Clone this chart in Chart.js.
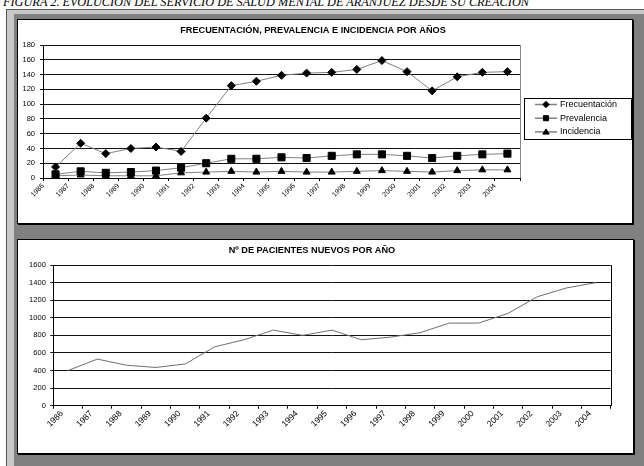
<!DOCTYPE html>
<html><head><meta charset="utf-8">
<script src="https://cdn.jsdelivr.net/npm/chart.js@4/dist/chart.umd.min.js"></script>
<style>
html,body{margin:0;padding:0;background:#fff;width:644px;height:466px;overflow:hidden;position:relative}
#caption{position:absolute;left:3px;top:-4px;font:italic 12.3px "Liberation Serif","Times New Roman",serif;line-height:12.3px;white-space:nowrap;color:#000}
#frame{position:absolute;left:6px;top:9px;width:660px;height:480px;background:#808080;border-top:1px solid #555;border-left:1px solid #555;box-shadow:inset 7px 4px 0 0 #c8c8c8}
.panel{position:absolute;background:#fff;border:1px solid #000;box-shadow:1px 1px 0 0 #000}
.panel canvas{display:block}
</style></head>
<body>
<div id="caption">FIGURA 2. EVOLUCIÓN DEL SERVICIO DE SALUD MENTAL DE ARANJUEZ DESDE SU CREACIÓN</div>
<div id="frame"></div>
<div class="panel" style="left:17px;top:19px;width:614px;height:203px"><canvas id="c1" width="614" height="203"></canvas></div>
<div class="panel" style="left:17px;top:239px;width:615px;height:213px"><canvas id="c2" width="615" height="213"></canvas></div>
<script>
// ---- data ----
const years = ['1986','1987','1988','1989','1990','1991','1992','1993','1994','1995','1996','1997','1998','1999','2000','2001','2002','2003','2004'];
const frecuentacion = [15,47,33,40,42,36,81,125,131,139,142,143,147,159,144,118,137,143,144];
const prevalencia   = [5,9,7,8,10,14,20,26,26,28,27,30,32,32,30,27,30,32,33];
const incidencia    = [3,4,3,3,3,7,8,9,8,9,8,8,9,10,9,8,10,11,11];
const pacientesNuevos = [400,530,460,435,475,670,750,860,800,860,750,780,830,940,940,1050,1240,1340,1400];
const topTitle = 'FRECUENTACIÓN, PREVALENCIA E INCIDENCIA POR AÑOS';
const bottomTitle = 'Nº DE PACIENTES NUEVOS POR AÑO';
const seriesNames = ['Frecuentación','Prevalencia','Incidencia'];
const topScale = {min:0, max:180, step:20};
const bottomScale = {min:0, max:1600, step:200};

const FAM = '"Liberation Sans", Arial, sans-serif';

function markerPath(ctx, style, x, y, r){
  ctx.beginPath();
  if(style==='rectRot'){ ctx.moveTo(x-r,y); ctx.lineTo(x,y-r); ctx.lineTo(x+r,y); ctx.lineTo(x,y+r); ctx.closePath(); }
  else if(style==='rect'){ const s=r*Math.SQRT1_2; ctx.rect(x-s,y-s,2*s,2*s); }
  else { const h=r*1.5, w=r*Math.sqrt(3)/2; ctx.moveTo(x-w*1.15,y+h/2.2); ctx.lineTo(x,y-h/1.6); ctx.lineTo(x+w*1.15,y+h/2.2); ctx.closePath(); }
}

const titlePos = { id:'titlePos', afterLayout(chart, args, opts){
  const t = chart.titleBlock; if(!t || opts.center==null) return;
  t.left = opts.center - 260; t.right = opts.center + 260; } };

const areaFrame = { id:'areaFrame', beforeDatasetsDraw(chart, args, opts){
  const {top,right,bottom} = chart.chartArea, ctx = chart.ctx;
  ctx.save(); ctx.strokeStyle = opts.color || '#000'; ctx.lineWidth = 1;
  const xr = Math.round(right)+0.5;
  ctx.beginPath(); ctx.moveTo(xr, Math.round(top)); ctx.lineTo(xr, Math.round(bottom)); ctx.stroke();
  ctx.restore(); } };

const sideLegend = { id:'sideLegend', afterDraw(chart, args, opts){
  if(!opts || !opts.display) return;
  const ctx = chart.ctx, ca = chart.chartArea;
  const x0 = Math.round(ca.right + 4), y0 = Math.round(ca.top + 53);
  const w = chart.width - x0 - 1, h = 41;
  ctx.save();
  ctx.strokeStyle = '#000'; ctx.lineWidth = 1;
  ctx.strokeRect(x0+0.5, y0+0.5, w, h);
  chart.data.datasets.forEach((ds, i) => {
    const cy = y0 + 6.5 + i*13.7;
    ctx.strokeStyle = ds.borderColor; ctx.lineWidth = 1.5;
    ctx.beginPath(); ctx.moveTo(x0+11, cy); ctx.lineTo(x0+33, cy); ctx.stroke();
    ctx.fillStyle = '#000'; ctx.strokeStyle = '#000'; ctx.lineWidth = 1;
    markerPath(ctx, ds.pointStyle, x0+22, cy, ds.pointStyle==='rect' ? 3.6 : 3.2);
    ctx.fill(); ctx.stroke();
    ctx.fillStyle = '#000'; ctx.font = '9px ' + FAM; ctx.textBaseline = 'middle'; ctx.textAlign = 'left';
    ctx.fillText(ds.label, x0+36, cy);
  });
  ctx.restore(); } };

function mkSeries(label, data, style, r){
  return { label, data, borderColor:'#808080', borderWidth:1, backgroundColor:'#000',
    pointStyle:style, pointRadius:r, pointBorderColor:'#000', pointBackgroundColor:'#000', pointBorderWidth:1, tension:0 };
}
const plain = v => String(v);

new Chart(document.getElementById('c1'), {
  type:'line',
  data:{ labels:years, datasets:[
    mkSeries(seriesNames[0], frecuentacion, 'rectRot', 4),
    mkSeries(seriesNames[1], prevalencia, 'rect', 5),
    mkSeries(seriesNames[2], incidencia, 'triangle', 4)
  ]},
  options:{
    responsive:false, animation:false, events:[],
    layout:{ padding:{ top:5.2, left:0, right:112, bottom:0 } },
    plugins:{
      legend:{display:false}, tooltip:{enabled:false},
      title:{ display:true, text:topTitle, color:'#000', font:{family:FAM, size:9.2, weight:'bold', lineHeight:1.2}, padding:{top:0,bottom:8.8} },
      titlePos:{ center:295 },
      areaFrame:{ color:'#888' },
      sideLegend:{ display:true }
    },
    scales:{
      x:{ type:'category', offset:true,
        grid:{ offset:true, drawOnChartArea:false, tickLength:3, color:'#000' },
        border:{ color:'#000' },
        ticks:{ autoSkip:false, minRotation:45, maxRotation:45, labelOffset:-12.5, padding:1, color:'#000', font:{family:FAM, size:7} },
        afterFit(s){ s.height = 45; } },
      y:{ min:topScale.min, max:topScale.max,
        ticks:{ stepSize:topScale.step, padding:5, color:'#000', font:{family:FAM, size:7.5}, callback:plain },
        grid:{ color:'#111', tickLength:3 },
        border:{ color:'#000' },
        afterFit(s){ s.width = 25; } }
    }
  },
  plugins:[titlePos, areaFrame, sideLegend]
});

new Chart(document.getElementById('c2'), {
  type:'line',
  data:{ labels:years, datasets:[{ label:bottomTitle, data:pacientesNuevos, borderColor:'#6e6e6e', borderWidth:1, pointRadius:0, tension:0 }]},
  options:{
    responsive:false, animation:false, events:[],
    layout:{ padding:{ top:5.2, left:0, right:22.3, bottom:0 } },
    plugins:{
      legend:{display:false}, tooltip:{enabled:false},
      title:{ display:true, text:bottomTitle, color:'#000', font:{family:FAM, size:9.2, weight:'bold', lineHeight:1.2}, padding:{top:0,bottom:8.8} },
      titlePos:{ center:294 },
      areaFrame:{ color:'#000' }
    },
    scales:{
      x:{ type:'category', offset:true,
        grid:{ offset:true, drawOnChartArea:false, tickLength:3, color:'#000' },
        border:{ color:'#000' },
        ticks:{ autoSkip:false, minRotation:45, maxRotation:45, labelOffset:-6, padding:0, color:'#000', font:{family:FAM, size:8.5} },
        afterFit(s){ s.height = 47.3; } },
      y:{ min:bottomScale.min, max:bottomScale.max,
        ticks:{ stepSize:bottomScale.step, padding:4.5, color:'#000', font:{family:FAM, size:7.5}, callback:plain },
        grid:{ color:'#111', tickLength:3 },
        border:{ color:'#000' },
        afterFit(s){ s.width = 35.3; } }
    }
  },
  plugins:[titlePos, areaFrame]
});
</script>
</body></html>
